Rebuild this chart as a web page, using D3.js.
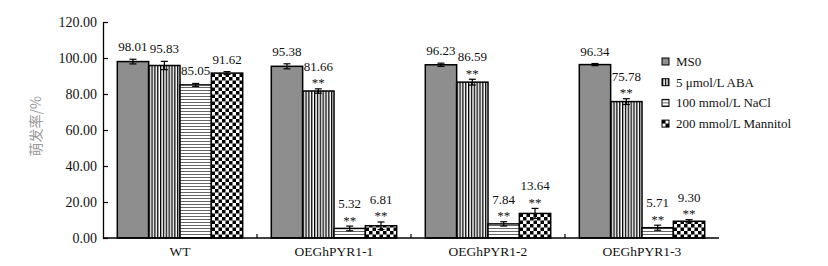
<!DOCTYPE html>
<html>
<head>
<meta charset="utf-8">
<script src="https://cdn.jsdelivr.net/npm/d3@7"></script>
<style>
  body { margin: 0; background: #fff; }
</style>
</head>
<body>
<div id="chart"></div>
<script>
var chart_width = 828;
var chart_height = 266;
var serif = "'Liberation Serif', 'Times New Roman', Tinos, serif";

// Data
var groups = ['WT', 'OEGhPYR1-1', 'OEGhPYR1-2', 'OEGhPYR1-3'];
var treatments = ['MS0', '5 μmol/L ABA', '100 mmol/L NaCl', '200 mmol/L Mannitol'];
var ms0 = [98.01, 95.38, 96.23, 96.34];
var aba = [95.83, 81.66, 86.59, 75.78];
var nacl = [85.05, 5.32, 7.84, 5.71];
var mannitol = [91.62, 6.81, 13.64, 9.30];
var ms0_err = [1.3, 1.4, 0.9, 0.6];
var aba_err = [2.3, 1.2, 1.6, 1.6];
var nacl_err = [0.8, 1.3, 1.2, 1.4];
var mannitol_err = [0.8, 2.1, 2.8, 0.9];
var ms0_sig = ['', '', '', ''];
var aba_sig = ['', '**', '**', '**'];
var nacl_sig = ['', '**', '**', '**'];
var mannitol_sig = ['', '**', '**', '**'];
var y_ticks = [0, 20, 40, 60, 80, 100, 120];
var y_title = '萌发率/%';

var series = [
    { name: treatments[0], values: ms0, err: ms0_err, sig: ms0_sig, fill: '#8e8e8e' },
    { name: treatments[1], values: aba, err: aba_err, sig: aba_sig, fill: 'url(#vstripe)' },
    { name: treatments[2], values: nacl, err: nacl_err, sig: nacl_sig, fill: 'url(#hstripe)' },
    { name: treatments[3], values: mannitol, err: mannitol_err, sig: mannitol_sig, fill: 'url(#checker)' }
];

var rows = [];
groups.forEach((g, gi) => {
    series.forEach((s) => {
        rows.push({ group: g, name: s.name, value: s.values[gi], err: s.err[gi], sig: s.sig[gi], fill: s.fill });
    });
});

var svg = d3.select('#chart')
            .append('svg')
            .attr('width', chart_width)
            .attr('height', chart_height)
            .attr('font-family', serif);

// Patterns
var defs = svg.append('defs');
var vp = defs.append('pattern').attr('id', 'vstripe').attr('patternUnits', 'userSpaceOnUse')
    .attr('width', 2.85).attr('height', 4);
vp.append('rect').attr('width', 2.85).attr('height', 4).attr('fill', '#fff');
vp.append('rect').attr('width', 1.3).attr('height', 4).attr('fill', '#000');

var hp = defs.append('pattern').attr('id', 'hstripe').attr('patternUnits', 'userSpaceOnUse')
    .attr('width', 4).attr('height', 3);
hp.append('rect').attr('width', 4).attr('height', 3).attr('fill', '#fff');
hp.append('rect').attr('width', 4).attr('height', 1).attr('fill', '#666');

var cp = defs.append('pattern').attr('id', 'checker').attr('patternUnits', 'userSpaceOnUse')
    .attr('width', 7).attr('height', 7);
cp.append('rect').attr('width', 7).attr('height', 7).attr('fill', '#fff');
cp.append('rect').attr('width', 3.5).attr('height', 3.5).attr('fill', '#000');
cp.append('rect').attr('x', 3.5).attr('y', 3.5).attr('width', 3.5).attr('height', 3.5).attr('fill', '#000');

var lp = defs.append('pattern').attr('id', 'legchecker').attr('patternUnits', 'objectBoundingBox')
    .attr('width', 1).attr('height', 1);
lp.append('rect').attr('width', 7).attr('height', 7).attr('fill', '#000');
lp.append('rect').attr('x', 3.5).attr('width', 3.5).attr('height', 3.5).attr('fill', '#fff');
lp.append('rect').attr('y', 3.5).attr('width', 3.5).attr('height', 3.5).attr('fill', '#fff');

// Scales
var x0_scale = d3.scaleBand()
                .domain(groups)
                .range([103, 719])
                .padding(0);

var x1_scale = d3.scaleBand()
                .domain(treatments)
                .range([0, x0_scale.bandwidth()])
                .paddingInner(0)
                .paddingOuter(0.456);

var y_scale = d3.scaleLinear()
                .domain([0, 120])
                .range([238, 22]);

// Y axis
var y_axis = d3.axisLeft(y_scale)
               .tickValues(y_ticks)
               .tickFormat(d3.format('.2f'))
               .tickSizeInner(-5)
               .tickSizeOuter(0)
               .tickPadding(6);

var gy = svg.append('g')
    .attr('transform', 'translate(103,0)')
    .call(y_axis)
    .attr('font-family', serif)
    .attr('font-size', 14);
gy.select('.domain').attr('stroke', '#000').attr('stroke-width', 1.3);
gy.selectAll('.tick line').attr('stroke', '#000').attr('stroke-width', 1.2);
gy.selectAll('.tick text').attr('fill', '#111');

svg.append('text')
    .attr('transform', 'translate(41,' + y_scale(62) + ') rotate(-90)')
    .attr('text-anchor', 'middle')
    .attr('font-family', "'Noto Sans CJK SC', sans-serif")
    .attr('font-size', 14)
    .attr('fill', '#999')
    .text(y_title);

// Bars
var bar_groups = svg.selectAll('g.grp')
    .data(groups)
    .enter()
    .append('g')
    .attr('class', 'grp')
    .attr('transform', (d) => {
        return 'translate(' + x0_scale(d) + ',0)';
    });

bar_groups.selectAll('rect')
    .data((g) => {
        return rows.filter((r) => r.group === g);
    })
    .enter()
    .append('rect')
    .attr('x', (d) => x1_scale(d.name))
    .attr('y', (d) => y_scale(d.value))
    .attr('width', x1_scale.bandwidth())
    .attr('height', (d) => y_scale(0) - y_scale(d.value))
    .attr('fill', (d) => d.fill)
    .attr('stroke', '#000')
    .attr('stroke-width', 1.5);

// Error bars
var cap = 3.5;
var eb = bar_groups.selectAll('g.err')
    .data((g) => {
        return rows.filter((r) => r.group === g);
    })
    .enter()
    .append('g')
    .attr('class', 'err')
    .attr('stroke', '#000')
    .attr('stroke-width', 1.2);

eb.append('line')
    .attr('x1', (d) => x1_scale(d.name) + x1_scale.bandwidth() / 2)
    .attr('x2', (d) => x1_scale(d.name) + x1_scale.bandwidth() / 2)
    .attr('y1', (d) => y_scale(d.value + d.err))
    .attr('y2', (d) => y_scale(d.value - d.err));
eb.append('line')
    .attr('x1', (d) => x1_scale(d.name) + x1_scale.bandwidth() / 2 - cap)
    .attr('x2', (d) => x1_scale(d.name) + x1_scale.bandwidth() / 2 + cap)
    .attr('y1', (d) => y_scale(d.value + d.err))
    .attr('y2', (d) => y_scale(d.value + d.err));
eb.append('line')
    .attr('x1', (d) => x1_scale(d.name) + x1_scale.bandwidth() / 2 - cap)
    .attr('x2', (d) => x1_scale(d.name) + x1_scale.bandwidth() / 2 + cap)
    .attr('y1', (d) => y_scale(d.value - d.err))
    .attr('y2', (d) => y_scale(d.value - d.err));

// Significance stars and value labels
var labels = bar_groups.selectAll('g.lab')
    .data((g) => {
        return rows.filter((r) => r.group === g);
    })
    .enter()
    .append('g')
    .attr('class', 'lab')
    .attr('font-size', 13)
    .attr('fill', '#111');

labels.filter((d) => d.sig !== '')
    .append('text')
    .attr('x', (d) => x1_scale(d.name) + x1_scale.bandwidth() / 2)
    .attr('y', (d) => y_scale(d.value + d.err) - 1.5)
    .attr('text-anchor', 'middle')
    .text((d) => d.sig);

labels.append('text')
    .attr('x', (d) => x1_scale(d.name) + x1_scale.bandwidth() / 2)
    .attr('y', (d) => {
        var top = y_scale(d.value + d.err);
        return d.sig !== '' ? top - 18 : top - 8;
    })
    .attr('text-anchor', 'middle')
    .text((d) => d.value.toFixed(2));

// X axis
svg.append('line')
    .attr('x1', x0_scale.range()[0])
    .attr('x2', x0_scale.range()[1])
    .attr('y1', y_scale(0))
    .attr('y2', y_scale(0))
    .attr('stroke', '#000')
    .attr('stroke-width', 1.3);

svg.selectAll('line.xtick')
    .data(groups.slice(1))
    .enter()
    .append('line')
    .attr('class', 'xtick')
    .attr('x1', (d) => x0_scale(d))
    .attr('x2', (d) => x0_scale(d))
    .attr('y1', y_scale(0))
    .attr('y2', y_scale(0) - 4)
    .attr('stroke', '#000')
    .attr('stroke-width', 1.2);

svg.selectAll('text.xlab')
    .data(groups)
    .enter()
    .append('text')
    .attr('class', 'xlab')
    .attr('x', (d) => x0_scale(d) + x0_scale.bandwidth() / 2)
    .attr('y', 256)
    .attr('text-anchor', 'middle')
    .attr('font-size', 13.5)
    .attr('fill', '#111')
    .text((d) => d);

// Legend
var legend = svg.selectAll('g.leg')
    .data(series)
    .enter()
    .append('g')
    .attr('class', 'leg')
    .attr('transform', (d, i) => {
        return 'translate(662,' + (58 + i * 20.7) + ')';
    });

legend.append('rect')
    .attr('width', 7)
    .attr('height', 7)
    .attr('fill', (d, i) => i === 3 ? 'url(#legchecker)' : d.fill)
    .attr('stroke', '#000')
    .attr('stroke-width', 1);

legend.append('text')
    .attr('x', 14)
    .attr('y', 8)
    .attr('font-size', 13)
    .attr('fill', '#111')
    .text((d) => d.name);
</script>
</body>
</html>
